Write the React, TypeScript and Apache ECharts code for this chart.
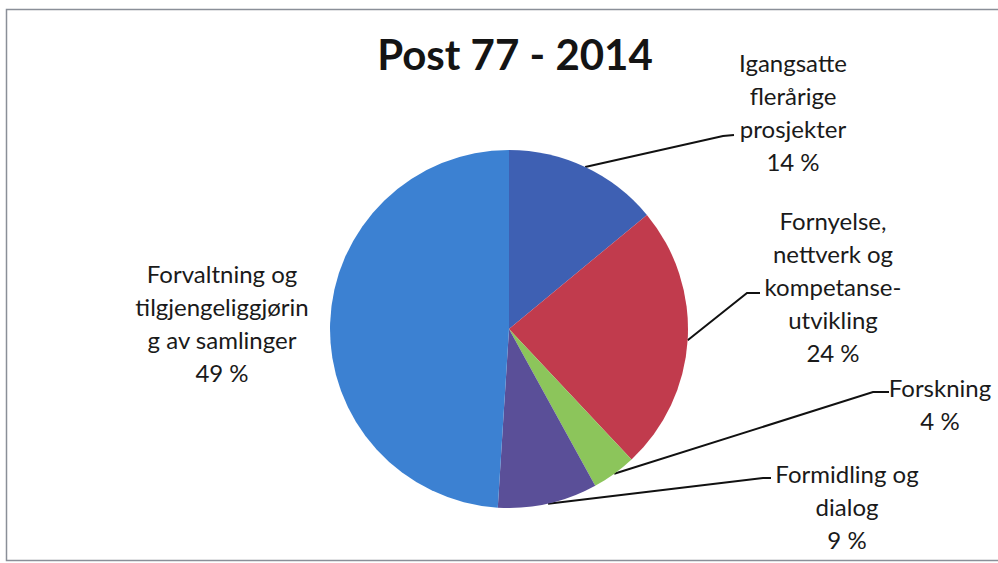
import React, { useEffect, useRef } from "react";
import * as echarts from "echarts";

const categories = [
  "Igangsatte\nflerårige\nprosjekter",
  "Fornyelse,\nnettverk og\nkompetanse-\nutvikling",
  "Forskning",
  "Formidling og\ndialog",
  "Forvaltning og\ntilgjengeliggjørin\ng av samlinger",
];
const shares = [14, 24, 4, 9, 49];
const sliceColors = ["#3e60b3", "#c13b4d", "#8cc55b", "#5a4f98", "#3c81d2"];

// label placement (centre of label block), leader elbow and leader end
const labelCenters = [
  [793, 112],
  [833, 286],
  [940, 404],
  [847, 506],
  [222, 323],
];
const leaderElbows = [[723, 136], [747, 293], [873, 392], [763, 478], null];
const leaderEnds = [[734, 135], [760, 293], [889, 392], [771, 478], null];

const FONT = "Lato";

export default function App() {
  const ref = useRef<HTMLDivElement>(null);
  useEffect(() => {
    if (!ref.current) return;
    const chart = echarts.init(ref.current, undefined, { renderer: "svg" });
    const data = categories.map((name, i) => ({
      name,
      value: shares[i],
      itemStyle: { color: sliceColors[i] },
      labelLine: { show: leaderEnds[i] != null },
    }));
    chart.setOption({
      animation: false,
      backgroundColor: "#ffffff",
      title: {
        text: "Post 77 - 2014",
        left: 510,
        textAlign: "center",
        top: 28,
        textStyle: {
          fontFamily: FONT,
          fontWeight: "bold",
          fontSize: 42,
          color: "#141414",
        },
      },
      graphic: [
        {
          type: "rect",
          shape: { x: 6.5, y: 9.5, width: 1000, height: 551 },
          style: { fill: "none", stroke: "#8a8f98", lineWidth: 1.5 },
          silent: true,
        },
      ],
      series: [
        {
          type: "pie",
          center: [509, 329],
          radius: 179,
          startAngle: 90,
          clockwise: true,
          data,
          itemStyle: { borderWidth: 0 },
          label: {
            show: true,
            position: "outside",
            formatter: (p: any) => `${p.name}\n${p.value} %`,
            fontFamily: FONT,
            fontSize: 24,
            lineHeight: 33,
            color: "#1a1a1a",
            align: "center",
          },
          labelLine: {
            show: true,
            lineStyle: { color: "#111111", width: 2 },
            smooth: false,
          },
          labelLayout: (params: any) => {
            const i = params.dataIndex;
            const c = labelCenters[i];
            const res: any = {
              x: c[0],
              y: c[1],
              align: "center",
              verticalAlign: "middle",
            };
            const end = leaderEnds[i];
            const elbow = leaderElbows[i];
            const pts = params.labelLinePoints;
            if (end && elbow && pts && pts[0]) {
              res.labelLinePoints = [pts[0], elbow, end];
            }
            return res;
          },
        },
      ],
    });
    return () => chart.dispose();
  }, []);
  return (
    <div
      ref={ref}
      style={{ position: "fixed", left: 0, top: 0, width: 998, height: 563 }}
    />
  );
}
